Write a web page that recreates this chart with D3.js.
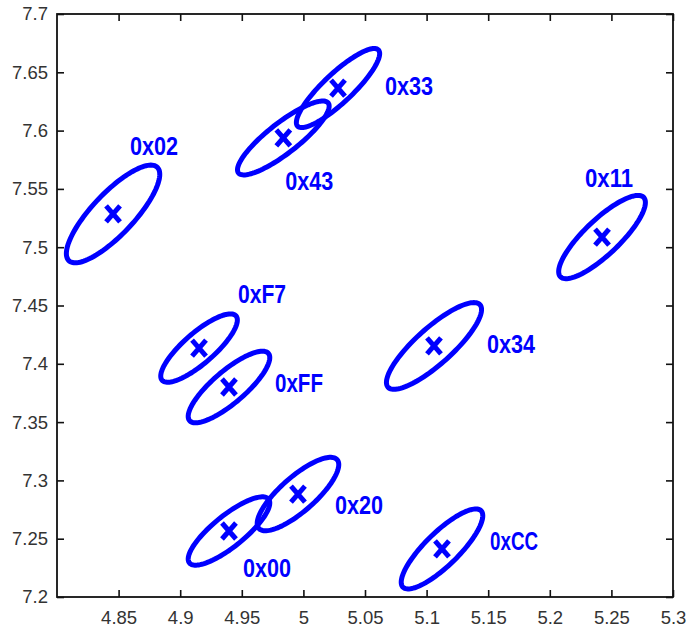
<!DOCTYPE html>
<html>
<head>
<meta charset="utf-8">
<script src="https://cdn.jsdelivr.net/npm/d3@7"></script>
<style>
  body { margin: 0; background: #fff; }
  .tick text { font-family: "Liberation Sans", Arial, sans-serif; font-size: 18.5px; fill: #333; }
  .lbl { font-family: "Liberation Sans", Arial, sans-serif; font-weight: bold; font-size: 25px; fill: #0000ff; }
</style>
</head>
<body>
<script>
// cluster names, means and spread (semi extents + correlation)
var names = ["0x02", "0x43", "0x33", "0x11", "0xF7", "0xFF", "0x34", "0x20", "0x00", "0xCC"];
var meanX = [4.8455, 4.9837, 5.0281, 5.2424, 4.9153, 4.9396, 5.1060, 4.9956, 4.9396, 5.1125];
var meanY = [7.5285, 7.5937, 7.6365, 7.5087, 7.4135, 7.3801, 7.4153, 7.2883, 7.2566, 7.2412];
var sdX   = [0.0379, 0.0372, 0.0338, 0.0352, 0.0311, 0.0331, 0.0386, 0.0331, 0.0331, 0.0331];
var sdY   = [0.0419, 0.0317, 0.0339, 0.0357, 0.0293, 0.0307, 0.0372, 0.0315, 0.0293, 0.0343];
var rho   = [0.81, 0.86, 0.87, 0.83, 0.82, 0.82, 0.84, 0.80, 0.82, 0.83];

var xTicks = [4.85, 4.9, 4.95, 5, 5.05, 5.1, 5.15, 5.2, 5.25, 5.3];
var yTicks = [7.2, 7.25, 7.3, 7.35, 7.4, 7.45, 7.5, 7.55, 7.6, 7.65, 7.7];

// label offsets from the mean, in pixels (left, baseline)
var labelOff = {
  "0x02": [17, -59], "0x43": [2, 52], "0x33": [47, 7], "0x11": [-17, -50],
  "0xF7": [39, -45], "0xFF": [46, 5], "0x34": [53, 7], "0x20": [37, 20],
  "0x00": [14, 46], "0xCC": [48, 1]
};

var margin = {top: 14, right: 15, bottom: 32, left: 57},
    width = 688 - margin.left - margin.right,
    height = 629 - margin.top - margin.bottom;

var x = d3.scaleLinear().domain([4.8, 5.3]).range([0, width]);
var y = d3.scaleLinear().domain([7.2, 7.7]).range([height, 0]);

var svg = d3.select("body").append("svg")
    .attr("width", 688)
    .attr("height", 629)
  .append("g")
    .attr("transform", "translate(" + margin.left + "," + margin.top + ")");

var fmt = function(d) { return d3.format("")(+d.toFixed(2)); };

svg.append("g")
    .attr("class", "x axis")
    .attr("transform", "translate(0," + height + ")")
    .call(d3.axisBottom(x).tickValues(xTicks).tickSize(-7).tickPadding(14).tickFormat(fmt))
    .call(function(g) { g.select(".domain").remove(); });

svg.append("g")
    .attr("class", "y axis")
    .call(d3.axisLeft(y).tickValues(yTicks).tickSize(-7).tickPadding(9).tickFormat(fmt))
    .call(function(g) { g.select(".domain").remove(); });

// top and right ticks
svg.append("g")
    .call(d3.axisTop(x).tickValues(xTicks).tickSize(-7).tickFormat(""))
    .call(function(g) { g.select(".domain").remove(); });
svg.append("g")
    .attr("transform", "translate(" + width + ",0)")
    .call(d3.axisRight(y).tickValues(yTicks).tickSize(-7).tickFormat(""))
    .call(function(g) { g.select(".domain").remove(); });

svg.selectAll(".tick line").attr("stroke", "#111").attr("stroke-width", 1.6);

svg.append("rect")
    .attr("width", width)
    .attr("height", height)
    .attr("fill", "none")
    .attr("stroke", "#111")
    .attr("stroke-width", 1.8);

var data = names.map(function(n, i) {
  return {name: n, mx: meanX[i], my: meanY[i], sx: sdX[i], sy: sdY[i], r: rho[i]};
});

var line = d3.line()
    .x(function(p) { return x(p[0]); })
    .y(function(p) { return y(p[1]); })
    .curve(d3.curveLinearClosed);

function ellipse(d) {
  var pts = [], k = Math.sqrt(1 - d.r * d.r);
  for (var i = 0; i < 120; i++) {
    var t = i / 120 * 2 * Math.PI;
    pts.push([d.mx + d.sx * Math.cos(t), d.my + d.sy * (d.r * Math.cos(t) + k * Math.sin(t))]);
  }
  return line(pts);
}

svg.selectAll("path.ell")
    .data(data)
  .enter().append("path")
    .attr("class", "ell")
    .attr("d", ellipse)
    .attr("fill", "none")
    .attr("stroke", "#0000ff")
    .attr("stroke-width", 5);

svg.selectAll("path.mark")
    .data(data)
  .enter().append("path")
    .attr("class", "mark")
    .attr("transform", function(d) { return "translate(" + x(d.mx) + "," + y(d.my) + ")"; })
    .attr("d", "M-7,-8L7,8M-7,8L7,-8")
    .attr("stroke", "#0000ff")
    .attr("stroke-width", 5);

// condensed look: squeeze the labels to the reference width
svg.selectAll("text.lbl")
    .data(data)
  .enter().append("text")
    .attr("class", "lbl")
    .attr("x", function(d) { return x(d.mx) + labelOff[d.name][0]; })
    .attr("y", function(d) { return y(d.my) + labelOff[d.name][1]; })
    .attr("textLength", 48)
    .attr("lengthAdjust", "spacingAndGlyphs")
    .text(function(d) { return d.name; });
</script>
</body>
</html>
